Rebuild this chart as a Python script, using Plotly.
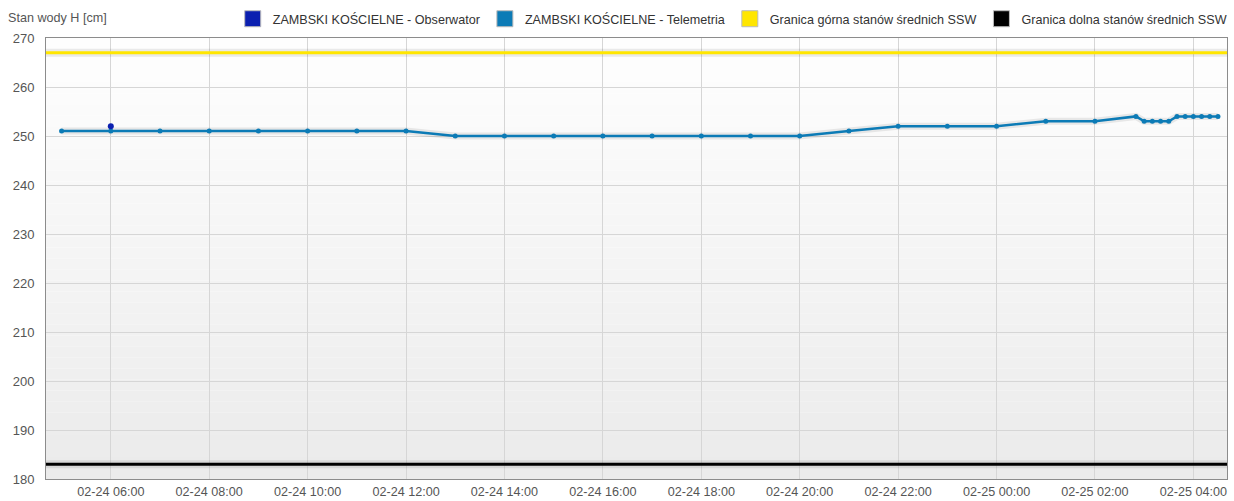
import plotly.graph_objects as go

# Colors
BLUE_OBS = "#0b1fb0"
BLUE_TEL = "#0c7bb6"
YELLOW = "#ffe600"
BLACK = "#000000"
GRID = "#d6d6d6"
AXIS = "#8c8c8c"
TEXT = "#555555"
FONT = "Liberation Sans, Arial"

# Data
obs_times = ["2024-02-24 06:00"]
obs_values = [252]

tel_times = [
    "2024-02-24 05:00", "2024-02-24 06:00", "2024-02-24 07:00", "2024-02-24 08:00",
    "2024-02-24 09:00", "2024-02-24 10:00", "2024-02-24 11:00", "2024-02-24 12:00",
    "2024-02-24 13:00", "2024-02-24 14:00", "2024-02-24 15:00", "2024-02-24 16:00",
    "2024-02-24 17:00", "2024-02-24 18:00", "2024-02-24 19:00", "2024-02-24 20:00",
    "2024-02-24 21:00", "2024-02-24 22:00", "2024-02-24 23:00", "2024-02-25 00:00",
    "2024-02-25 01:00", "2024-02-25 02:00", "2024-02-25 02:50", "2024-02-25 03:00",
    "2024-02-25 03:10", "2024-02-25 03:20", "2024-02-25 03:30", "2024-02-25 03:40",
    "2024-02-25 03:50", "2024-02-25 04:00", "2024-02-25 04:10", "2024-02-25 04:20",
    "2024-02-25 04:30",
]
tel_values = [
    251, 251, 251, 251, 251, 251, 251, 251,
    250, 250, 250, 250, 250, 250, 250, 250,
    251, 252, 252, 252, 253, 253, 254, 253,
    253, 253, 253, 254, 254, 254, 254, 254,
    254,
]

x_range = ["2024-02-24 04:41", "2024-02-25 04:41"]
upper_ssw = 267
lower_ssw = 183

legend_names = [
    "ZAMBSKI KOŚCIELNE - Obserwator",
    "ZAMBSKI KOŚCIELNE - Telemetria",
    "Granica górna stanów średnich SSW",
    "Granica dolna stanów średnich SSW",
]
legend_colors = [BLUE_OBS, BLUE_TEL, YELLOW, BLACK]

fig = go.Figure()

# threshold lines with a soft shadow
for val, col in [(upper_ssw, YELLOW), (lower_ssw, BLACK)]:
    fig.add_trace(go.Scatter(
        x=x_range, y=[val, val], mode="lines", showlegend=False, hoverinfo="skip",
        line=dict(color="rgba(0,0,0,0.08)", width=8)
    ))
    fig.add_trace(go.Scatter(
        x=x_range, y=[val, val], mode="lines", showlegend=False,
        line=dict(color=col, width=3)
    ))

# telemetry
fig.add_trace(go.Scatter(
    x=tel_times, y=tel_values, mode="lines", showlegend=False, hoverinfo="skip",
    line=dict(color="rgba(0,0,0,0.08)", width=7)
))
fig.add_trace(go.Scatter(
    x=tel_times, y=tel_values, mode="lines+markers", showlegend=False,
    line=dict(color=BLUE_TEL, width=2.5),
    marker=dict(color=BLUE_TEL, size=5)
))

# observer
fig.add_trace(go.Scatter(
    x=obs_times, y=obs_values, mode="markers", showlegend=False,
    marker=dict(color=BLUE_OBS, size=6)
))

# legend entries as squares
for name, col in zip(legend_names, legend_colors):
    fig.add_trace(go.Scatter(
        x=[None], y=[None], mode="markers", name=name,
        marker=dict(symbol="square", color=col, size=17,
                    line=dict(color="#bbbbbb", width=1))
    ))

# background gradient
n_steps = 40
shapes = []
for i in range(n_steps):
    t = i / (n_steps - 1)
    c = int(round(254 - (254 - 235) * t))
    shapes.append(dict(
        type="rect", xref="x domain", yref="y domain", layer="below",
        x0=0, x1=1, y0=1 - (i + 1) / n_steps, y1=1 - i / n_steps,
        fillcolor=f"rgb({c},{c},{c})", line=dict(width=0)
    ))

fig.update_layout(
    width=1234, height=501,
    margin=dict(l=46, r=2, t=38, b=22),
    plot_bgcolor="white", paper_bgcolor="white",
    font=dict(family=FONT, size=12, color=TEXT),
    shapes=shapes,
    showlegend=True,
    legend=dict(
        orientation="h", x=1.004, xanchor="right", y=1.043, yanchor="middle",
        font=dict(family=FONT, size=12.6, color="#333333"), itemwidth=30,
        bgcolor="rgba(0,0,0,0)", tracegroupgap=0,
    ),
    annotations=[dict(
        text="Stan wody H [cm]", xref="paper", yref="paper", x=0, y=1,
        xanchor="left", yanchor="bottom", xshift=-40, yshift=11,
        showarrow=False, font=dict(family=FONT, size=12.6, color=TEXT)
    )],
    xaxis=dict(
        type="date", range=x_range, tickformat="%m-%d %H:%M",
        dtick=2 * 3600 * 1000, tick0="2024-02-24 06:00",
        showgrid=True, gridcolor=GRID, gridwidth=1,
        showline=True, linecolor=AXIS, linewidth=1, mirror=True,
        ticks="", ticklabelstandoff=1, zeroline=False, automargin=False,
        tickfont=dict(family=FONT, size=12.6, color=TEXT),
    ),
    yaxis=dict(
        range=[180, 270], dtick=10, tick0=180,
        showgrid=True, gridcolor=GRID, gridwidth=1,
        showline=True, linecolor=AXIS, linewidth=1, mirror=True,
        ticks="", ticklabelstandoff=8, zeroline=False, automargin=False,
        tickfont=dict(family=FONT, size=13, color=TEXT),
    ),
)

fig.write_html("out.html", config={"displayModeBar": False},
               post_script="document.body.style.margin='0';")
